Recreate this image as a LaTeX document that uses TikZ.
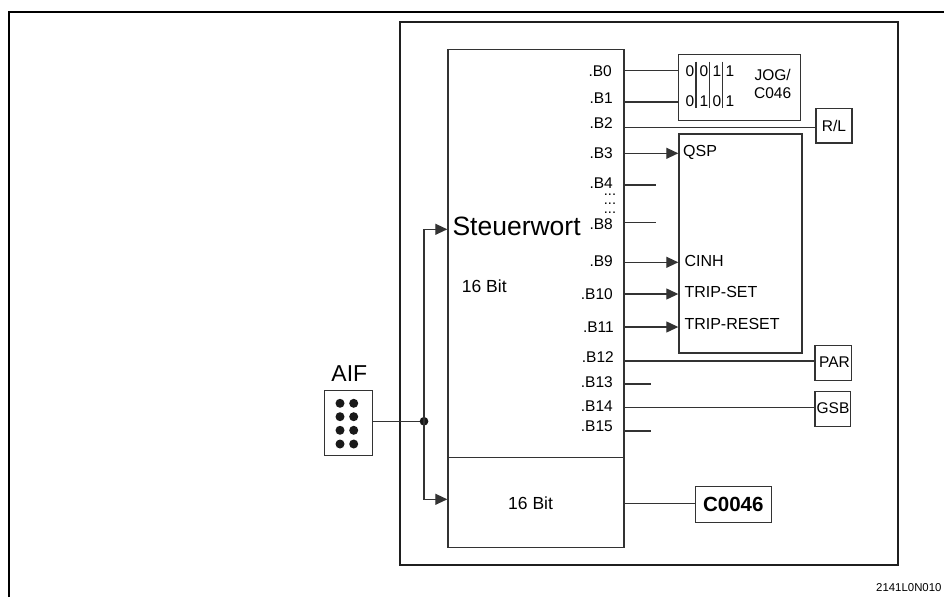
\documentclass[tikz,border=0pt]{standalone}
\usepackage{fontspec}
\setmainfont{Liberation Sans}
\usetikzlibrary{arrows.meta}
\tikzset{
  x=1pt,y=-1pt,
  thin line/.style={draw=black!80,line width=1.2pt},
  conn/.style={thin line,-{Triangle[length=12pt,width=11pt]}},
  small/.style={font=\fontsize{15.5}{18}\selectfont,inner sep=0pt},
  bl/.style={small,anchor=east},
  txt/.style={font=\fontsize{16}{18}\selectfont,inner sep=0pt,anchor=west},
  box/.style={thin line,fill=white,inner sep=0pt,anchor=north west},
  pin/.style={circle,fill=black!90,minimum size=9pt,inner sep=0pt}
}
\begin{document}
\begin{tikzpicture}
\useasboundingbox (0,0) rectangle (944,597);
% outer frames
\draw[line width=2.3pt,black] (9,597) -- (9,12) -- (944,12);
\draw[line width=2.1pt,black!88] (400.3,22) rectangle (897.7,565);
% main blocks
\node[box,minimum width=176pt,minimum height=408pt] (sw) at (447.3,49) {};
\node[box,minimum width=176pt,minimum height=90pt] (lo) at (447.3,456.7) {};
% JOG box
\node[box,minimum width=122pt,minimum height=66pt] (jog) at (677.7,53.7) {};
\draw[thin line] (696,61.7) -- (696,108) (709.3,61.7) -- (709.3,108) (722.3,61.7) -- (722.3,108);
\foreach \x/\a/\b in {690/0/0,704/0/1,717/1/0,730/1/1}{
  \node[small] at (\x,71) {\a};
  \node[small] at (\x,101) {\b};
}
\node[small,align=center] (joglab) at (772.7,84) {JOG/\\C046};
% QSP block
\node[box,minimum width=123pt,minimum height=219pt] (ctl) at (678.3,133.3) {};
% right boxes
\node[box,minimum width=36pt,minimum height=34.6pt] (rl) at (815.3,107.7) {};
\node[small] at (rl.center) {R/L};
\node[box,minimum width=36.4pt,minimum height=35pt] (par) at (814.3,345) {};
\node[small] at (834.5,362.5) {PAR};
\node[box,minimum width=35.7pt,minimum height=35.3pt] (gsb) at (814.3,390.7) {};
\node[small] at (833,408) {GSB};
\node[box,minimum width=76pt,minimum height=35.7pt] (c) at (694.7,486) {};
\node[font=\bfseries\fontsize{20.5}{23}\selectfont,inner sep=0pt] at (c.center) {C0046};
% bit labels
\foreach \n/\y/\r in {B0/70.7/612,B1/98.3/613,B2/123.3/613,B3/152.7/613,B4/182.7/613,B8/224.3/613,B9/261/613,B10/294/613,B11/326.7/614,B12/356.7/614,B13/381.7/613,B14/405.7/613,B15/426.7/613}{
  \node[bl] at (\r,\y) {.\n};
}
\foreach \y in {195,204,213}{
  \node[font=\fontsize{14.5}{16}\selectfont,inner sep=0pt,anchor=base] at (610,\y) {...};
}
% stubs
\coordinate (j0) at (677.7,70.7); \coordinate (j1) at (677.7,102);
\draw[thin line] (623.3,70.7) -- (j0);
\draw[thin line] (623.3,102) -- (j1);
\draw[thin line] (623.3,127.3) -- (rl.west |- 0,127.3);
\draw[thin line] (623.3,185) -- (656,185);
\draw[thin line] (623.3,222.3) -- (656,222.3);
\draw[thin line] (623.3,384) -- (651,384);
\draw[thin line] (623.3,431) -- (651,431);
\draw[thin line] (623.3,361) -- (par.west |- 0,361);
\draw[thin line] (623.3,407.7) -- (gsb.west |- 0,407.7);
% arrows
\draw[conn] (623.3,153.3) -- (ctl.west |- 0,153.3);
\draw[conn] (623.3,262.3) -- (ctl.west |- 0,262.3);
\draw[conn] (623.3,294) -- (ctl.west |- 0,294);
\draw[conn] (623.3,327) -- (ctl.west |- 0,327);
\node[txt] at (683,152.7) {QSP};
\node[txt] at (684.3,260.7) {CINH};
\node[txt] at (684.3,292) {TRIP-SET};
\node[txt] at (684.3,324.3) {TRIP-RESET};
% block texts
\node[txt,font=\fontsize{26.5}{30}\selectfont] (st) at (452.3,226.7) {Steuerwort};
\node[txt,font=\fontsize{17.5}{20}\selectfont] (b1) at (461.7,286.7) {16 Bit};
\node[txt,font=\fontsize{17.5}{20}\selectfont] (b2) at (508,503) {16 Bit};
\draw[thin line] (623.3,503.3) -- (c.west |- 0,503.3);
% AIF
\node[box,minimum width=47.7pt,minimum height=65pt] (aif) at (324,390) {};
\node[font=\fontsize{23}{26}\selectfont,inner sep=0pt] at (349.3,373.3) {AIF};
\foreach \x in {340,353.7}{\foreach \y in {403.3,416.7,430.3,444}{
  \node[pin] at (\x,\y) {};
}}
\coordinate (jn) at (424,421.3);
\draw[thin line] (aif.east |- jn) -- (jn);
\node[circle,fill=black!90,minimum size=8.7pt,inner sep=0pt] (dot) at (jn) {};
\coordinate (up) at (424,229.3);
\coordinate (dn) at (424,499.3);
\draw[conn] (dot.center) -- (up) -- (up -| sw.west);
\draw[conn] (dot.center) -- (dn) -- (dn -| lo.west);
% code
\node[font=\fontsize{11.4}{13}\selectfont,inner sep=0pt,anchor=east] at (941.7,587.3) {2141L0N010};
\end{tikzpicture}
\end{document}
